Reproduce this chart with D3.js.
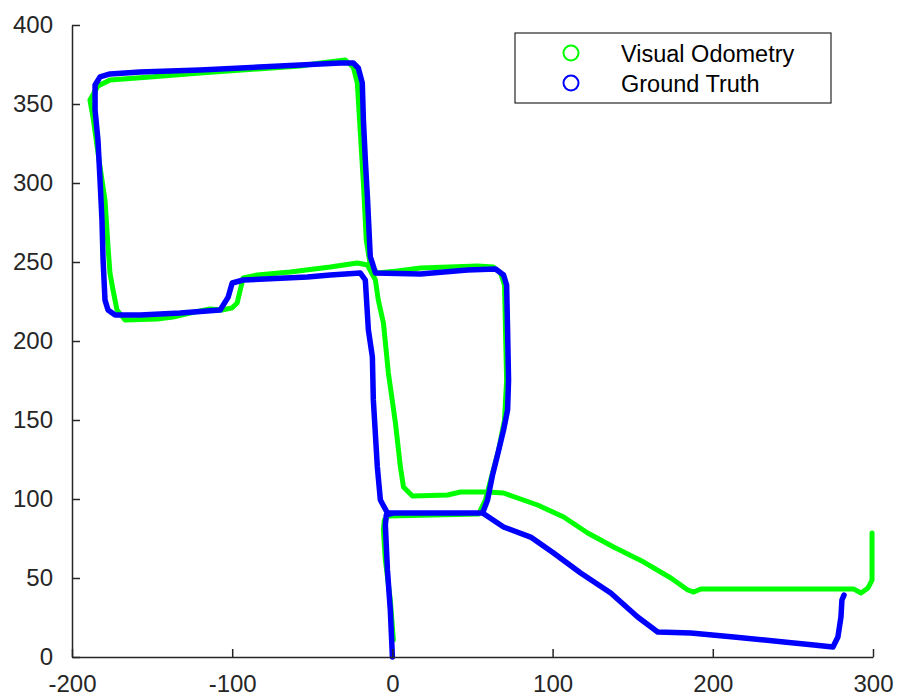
<!DOCTYPE html>
<html>
<head>
<meta charset="utf-8">
<script src="https://cdn.jsdelivr.net/npm/d3@7"></script>
<style>
  body { margin: 0; background: #fff; }
  svg { display: block; font-family: "Liberation Sans", Arial, sans-serif; }
</style>
</head>
<body>
<svg id="chart" width="898" height="700"></svg>
<script>
// trajectory data (x, y)
const visualOdometry = [
  [0.6, 10.8], [-1.3, 36.1], [-4.4, 61.4], [-5.6, 80.4], [-5, 86.7], [-2.5, 89.2],
  [53.8, 90.5], [58.1, 99.4], [61.3, 112], [66.3, 131], [70, 150], [71.3, 175.3],
  [70.6, 207], [70, 235.4], [67.5, 243], [63.1, 246.8], [53.1, 247.5], [17.5, 246.2],
  [3.1, 244.3], [-9.4, 243], [-13.8, 248.1], [-16.3, 263.9], [-18.1, 300], [-20, 331.6],
  [-21.9, 363.3], [-24.4, 373.4], [-29.4, 377.8], [-45, 375.9], [-57.5, 374.1],
  [-120, 369.6], [-151.3, 367.1], [-176.3, 365.2], [-183.8, 361.4], [-188.8, 352.5],
  [-186.9, 341.8], [-182.5, 310.1], [-179.4, 289.2], [-177.5, 259.5], [-176.3, 243],
  [-174.4, 232.3], [-171.9, 219.6], [-166.9, 213.3], [-146.9, 213.9], [-136.9, 215.2],
  [-126.3, 217.7], [-113.8, 220.3], [-106.3, 219.6], [-100, 221], [-96.9, 224.1],
  [-95, 232.3], [-93.1, 239.9], [-84.4, 241.8], [-63.8, 243.7], [-38.8, 246.8],
  [-21.9, 249.4], [-15.6, 248.1], [-10.6, 238.6], [-8.8, 225.9], [-5.6, 211.4],
  [-2.5, 179.7], [1.9, 148.1], [5, 120.3], [6.9, 107.6], [12.5, 101.9], [34.4, 102.5],
  [42.5, 104.4], [59.4, 104.4], [69.4, 103.8], [90.6, 96.2], [106.9, 88.6],
  [121.9, 78.5], [138.1, 69.6], [156.9, 60.1], [173.8, 50], [184.4, 42.4],
  [188.1, 41.1], [192.5, 43], [288.1, 43], [292.5, 40.5], [296.9, 43.7],
  [299.4, 48.7], [299.4, 78.5]
];

const groundTruth = [
  [0, 0], [-1.3, 29.7], [-3.1, 55.1], [-4.4, 83.5], [-3.8, 89.9], [0.6, 91.1],
  [30, 91.1], [56.3, 91.1], [59.4, 99.4], [62.5, 115.2], [65.6, 127.8], [69.4, 143.7],
  [71.9, 156.3], [72.5, 175.3], [71.9, 207], [71.3, 235.4], [69.4, 241.8], [64.4, 245.6],
  [46.9, 244.9], [17.5, 242.4], [-10.6, 243], [-12.5, 249.4], [-13.8, 253.2],
  [-15.6, 291.1], [-16.9, 314.6], [-18.1, 339.9], [-18.8, 363.3], [-21.3, 372.8],
  [-24.4, 375.9], [-32.5, 375.9], [-57.5, 374.7], [-120, 371.5], [-157.5, 370.3],
  [-176.3, 369], [-182.5, 367.1], [-185.6, 362], [-185.6, 346.2], [-183.8, 327.2],
  [-182.5, 301.9], [-181.3, 276.6], [-180.6, 251.3], [-179.4, 225.9], [-177.5, 219.6],
  [-173.1, 216.5], [-157.5, 216.5], [-132.5, 217.7], [-107.5, 219.6], [-102.5, 227.8],
  [-100, 236.7], [-93.1, 238.6], [-53.1, 240.5], [-38.8, 241.8], [-20, 243],
  [-16.9, 238.6], [-15, 207], [-12.5, 189.9], [-11.9, 162.7], [-9.4, 120.3],
  [-7.5, 99.4], [-3.1, 91.1], [0.6, 91.1], [30, 91.1], [56.3, 91.1], [69.4, 82.3],
  [86.3, 75.9], [100.6, 65.8], [117.5, 53.2], [136.3, 40.5], [153.1, 25.3],
  [165.6, 15.8], [186.3, 15.2], [213.1, 12.7], [244.4, 9.5], [263.1, 7.6],
  [275, 6.3], [278.1, 12.7], [280, 25.3], [280.6, 36.1], [281.9, 39.2]
];

const xTicks = [-200, -100, 0, 100, 200, 300];
const yTicks = [0, 50, 100, 150, 200, 250, 300, 350, 400];
const seriesNames = ["Visual Odometry", "Ground Truth"];
const seriesColors = ["#00ff00", "#0000ff"];

const svg = d3.select("#chart");
const margin = { top: 25, right: 25, bottom: 43, left: 72 };
const width = 898 - margin.left - margin.right;
const height = 700 - margin.top - margin.bottom;

const x = d3.scaleLinear().domain([-200, 300]).range([0, width]);
const y = d3.scaleLinear().domain([0, 400]).range([height, 0]);

const g = svg.append("g").attr("transform", `translate(${margin.left},${margin.top})`);

// трассы
const line = d3.line().x(d => x(d[0])).y(d => y(d[1]));
[visualOdometry, groundTruth].forEach((pts, i) => {
  g.append("path")
    .datum(pts)
    .attr("d", line)
    .attr("fill", "none")
    .attr("stroke", seriesColors[i])
    .attr("stroke-width", i === 1 ? 5.5 : 5)
    .attr("stroke-linejoin", "round")
    .attr("stroke-linecap", "round");
});

// оси
const axisColor = "#262626";
const fmt = d => String(d);
const xAxis = g.append("g")
  .attr("transform", `translate(0,${height})`)
  .call(d3.axisBottom(x).tickValues(xTicks).tickFormat(fmt)
    .tickSizeInner(-8).tickSizeOuter(0).tickPadding(18));
const yAxis = g.append("g")
  .call(d3.axisLeft(y).tickValues(yTicks).tickFormat(fmt)
    .tickSizeInner(-8).tickSizeOuter(0).tickPadding(19));

[xAxis, yAxis].forEach(a => {
  a.select(".domain").attr("stroke", axisColor).attr("stroke-width", 1.5);
  a.selectAll(".tick line").attr("stroke", axisColor).attr("stroke-width", 1.5);
  a.selectAll(".tick text")
    .attr("fill", axisColor)
    .style("font-size", "24px")
    .style("font-family", "'Liberation Sans', Arial, sans-serif");
});

// легенда
const legend = svg.append("g").attr("transform", "translate(515,33)");
legend.append("rect")
  .attr("width", 316).attr("height", 70)
  .attr("fill", "#fff").attr("stroke", "#262626").attr("stroke-width", 1.2);
seriesNames.forEach((name, i) => {
  legend.append("circle")
    .attr("cx", 56).attr("cy", 20 + i * 30).attr("r", 7.5)
    .attr("fill", "none").attr("stroke", seriesColors[i]).attr("stroke-width", 2);
  legend.append("text")
    .attr("x", 106).attr("y", 21 + i * 30).attr("dy", "0.35em")
    .style("font-size", "23.5px").attr("fill", "#000")
    .text(name);
});
</script>
</body>
</html>
